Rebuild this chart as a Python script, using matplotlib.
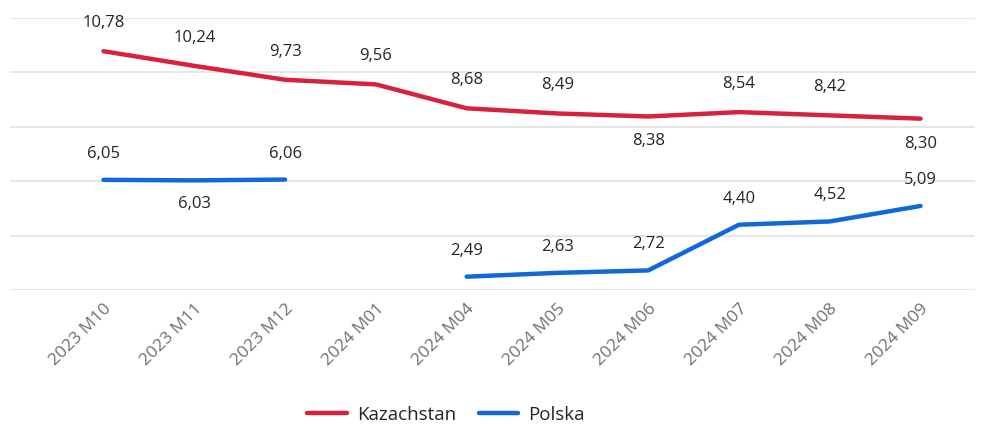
import matplotlib
matplotlib.use("Agg")
import matplotlib.pyplot as plt
import numpy as np

categories = ["2023 M10", "2023 M11", "2023 M12", "2024 M01", "2024 M04",
              "2024 M05", "2024 M06", "2024 M07", "2024 M08", "2024 M09"]
kazachstan = [10.78, 10.24, 9.73, 9.56, 8.68, 8.49, 8.38, 8.54, 8.42, 8.30]
polska = [6.05, 6.03, 6.06, np.nan, 2.49, 2.63, 2.72, 4.40, 4.52, 5.09]
kaz_below = [6, 9]
pol_below = [1]

RED = "#D7213F"
BLUE = "#1268D6"

plt.rcParams['font.family'] = ['Open Sans', 'DejaVu Sans']

W, H = 993, 425
fig = plt.figure(figsize=(W / 100, H / 100), dpi=100)
ax = fig.add_axes([10 / W, 1 - 290 / H, (975 - 10) / W, (290 - 18) / H])

x = np.arange(len(categories))
ax.plot(x, kazachstan, color=RED, lw=3.2, solid_joinstyle='round', solid_capstyle='round', label="Kazachstan")
ax.plot(x, polska, color=BLUE, lw=3.2, solid_joinstyle='round', solid_capstyle='round', label="Polska")

ax.set_ylim(2, 12)
ax.set_xlim(-1.03, 9.6)
ax.set_yticks([2, 4, 6, 8, 10, 12])
ax.yaxis.grid(True, color="#E1E1E1", lw=1.2)
ax.set_axisbelow(True)
ax.tick_params(axis='y', left=False, labelleft=False)
for s in ax.spines.values():
    s.set_visible(False)

ax.set_xticks(x)
ax.set_xticklabels(categories, rotation=45, ha='right', rotation_mode='anchor',
                   color="#707070", fontsize=12.5)
ax.tick_params(axis='x', bottom=False, pad=4)

def fmt(v):
    return f"{v:.2f}".replace(".", ",")

for i, v in enumerate(kazachstan):
    dy = -25 if i in kaz_below else 28
    ax.annotate(fmt(v), (x[i], v), xytext=(0, dy), textcoords='offset pixels',
                ha='center', va='center', fontsize=12, color="#252423")
for i, v in enumerate(polska):
    if np.isnan(v):
        continue
    dy = -24 if i in pol_below else 26
    ax.annotate(fmt(v), (x[i], v), xytext=(0, dy), textcoords='offset pixels',
                ha='center', va='center', fontsize=12, color="#252423")

fig.legend(loc='center', bbox_to_anchor=(446 / W, 1 - 415 / H), ncol=2, frameon=False,
           handlelength=2.1, handletextpad=0.55, columnspacing=1.2, fontsize=13.5,
           labelcolor="#252423")

fig.savefig("out.png", dpi=100)
